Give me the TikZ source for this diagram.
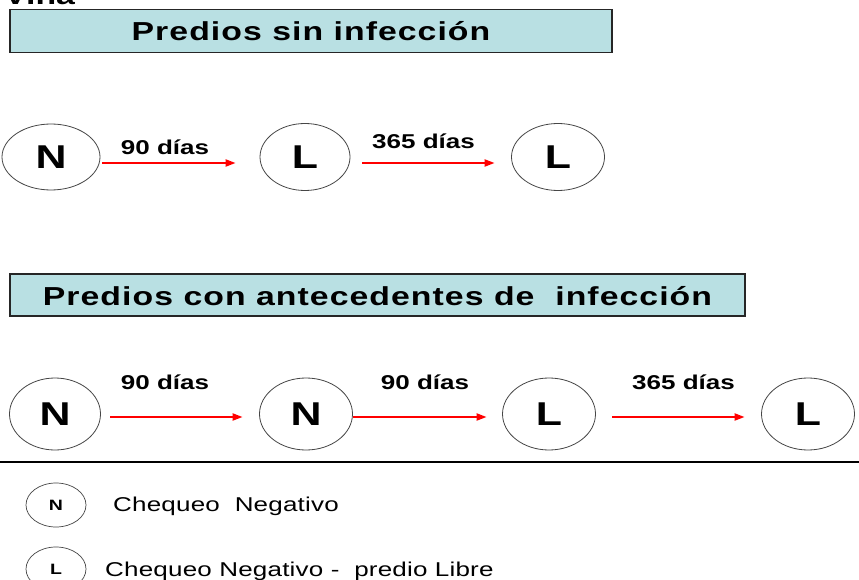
\documentclass[tikz,border=0pt]{standalone}
\usepackage{fontspec}
\setmainfont{Liberation Sans}[FakeStretch=1.3]
\usetikzlibrary{shapes.geometric,arrows.meta,calc}
\definecolor{boxfill}{RGB}{185,224,227}
\definecolor{edgegray}{RGB}{70,70,70}
\begin{document}
\begin{tikzpicture}[x=1pt,y=-1pt,
  state/.style={ellipse, draw=edgegray, line width=0.8pt, inner sep=0pt,
    minimum width=93pt, minimum height=70pt,
    font=\fontsize{33}{33}\selectfont\bfseries},
  small/.style={ellipse, draw=edgegray, line width=0.7pt, inner sep=0pt,
    minimum width=60pt, minimum height=44pt,
    font=\fontsize{15}{15}\selectfont\bfseries},
  titlebox/.style={draw=black!85, line width=1.2pt, fill=boxfill, inner sep=0pt,
    text depth=0pt,
    font=\fontsize{26}{26}\selectfont\bfseries\addfontfeature{LetterSpace=4}},
  flow/.style={red, line width=2pt, -{Triangle[length=10pt,width=7pt]}},
  lbl/.style={anchor=base, inner sep=0pt,
    font=\fontsize{20}{20}\selectfont\bfseries},
  legtext/.style={anchor=base west, inner sep=0pt,
    font=\fontsize{20}{20}\selectfont\addfontfeature{LetterSpace=1}}
]
\useasboundingbox (0,0) rectangle (859,580);
\fill[white] (0,0) rectangle (859,580);
\begin{scope}
\clip (0,0) rectangle (859,580);
\node[anchor=base west, inner sep=0pt, font=\fontsize{26}{26}\selectfont\bfseries] (vina) at (4,5) {Viña};
\end{scope}

% titles
\node[titlebox, minimum width=602pt, minimum height=43pt, text height=20pt] (t1) at (311,31) {Predios sin infección};
\node[titlebox, minimum width=735pt, minimum height=42pt, text height=21pt] (t2) at (377.5,295) {Predios con antecedentes de~~infección};

% row 1
\node[state, minimum width=98pt, minimum height=66pt] (n1) at (51,157) {N};
\node[state, minimum width=90pt, minimum height=67pt] (l1) at (305,157) {L};
\node[state, minimum width=93pt, minimum height=67pt] (l2) at (558,157) {L};
\draw[flow] ($(n1.east)+(2,6)$) -- ($(l1.west)+(-24,6)$);
\draw[flow] ($(l1.east)+(12,6)$) -- ($(l2.west)+(-16.5,6)$);
\node[lbl] (d1) at (165,155) {90 días};
\node[lbl] (d2) at (423.5,149) {365 días};

% row 2
\node[state, minimum width=91pt, minimum height=72pt] (n3) at (55,414) {N};
\node[state, minimum height=72pt] (n4) at (306,414) {N};
\node[state, minimum height=72pt] (l3) at (549,414) {L};
\node[state, minimum height=72pt] (l4) at (808,414) {L};
\draw[flow] ($(n3.east)+(9.5,3)$) -- ($(n4.west)+(-16.5,3)$);
\draw[flow] ($(n4.east)+(0.5,3)$) -- ($(l3.west)+(-15.5,3)$);
\draw[flow] ($(l3.east)+(16.5,3)$) -- ($(l4.west)+(-16.5,3)$);
\node[lbl] (d3) at (165,389) {90 días};
\node[lbl] (d4) at (425,389) {90 días};
\node[lbl] (d5) at (683.5,389) {365 días};

% separator
\coordinate (sepL) at (0,462);
\coordinate (sepR) at (859,462);
\draw[line width=2.5pt] (sepL) -- (sepR);

% legend
\node[small] (ln) at (56,505) {N};
\node[small] (ll) at (56,569) {L};
\node[legtext] (lt1) at (113,511) {Chequeo~~Negativo};
\node[legtext] (lt2) at (105,576) {Chequeo Negativo -~~predio Libre};
\end{tikzpicture}
\end{document}
